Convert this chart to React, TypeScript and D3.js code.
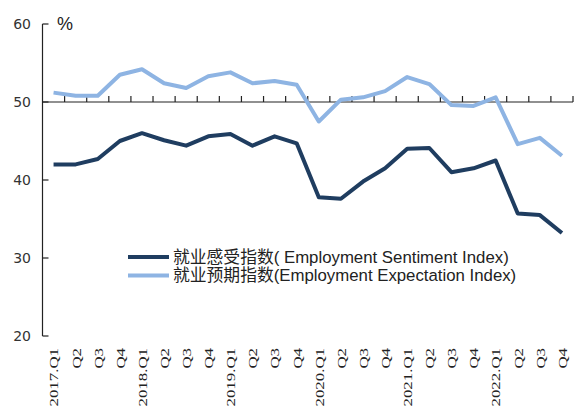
import React, { useEffect, useRef } from 'react';
import * as d3 from 'd3';

const quarters = [
  '2017.Q1', 'Q2', 'Q3', 'Q4',
  '2018.Q1', 'Q2', 'Q3', 'Q4',
  '2019.Q1', 'Q2', 'Q3', 'Q4',
  '2020.Q1', 'Q2', 'Q3', 'Q4',
  '2021.Q1', 'Q2', 'Q3', 'Q4',
  '2022.Q1', 'Q2', 'Q3', 'Q4',
];

const sentiment = [
  42.0, 42.0, 42.7, 45.0,
  46.0, 45.1, 44.4, 45.6,
  45.9, 44.4, 45.6, 44.7,
  37.8, 37.6, 39.8, 41.5,
  44.0, 44.1, 41.0, 41.5,
  42.5, 35.7, 35.5, 33.2,
];

const expectation = [
  51.2, 50.8, 50.8, 53.5,
  54.2, 52.4, 51.8, 53.3,
  53.8, 52.4, 52.7, 52.2,
  47.5, 50.3, 50.6, 51.4,
  53.2, 52.3, 49.6, 49.5,
  50.6, 44.6, 45.4, 43.1,
];

const yTicks = [20, 30, 40, 50, 60];

const legendLabels = [
  '就业感受指数( Employment Sentiment Index)',
  '就业预期指数(Employment Expectation Index)',
];

const DARK = '#1f3d60';
const LIGHT = '#8eb4e3';

export default function App() {
  const svgRef = useRef<SVGSVGElement>(null);

  useEffect(() => {
    if (!svgRef.current) return;
    const svg = d3.select(svgRef.current);
    svg.selectAll('*').remove();

    const left = 42.5, right = 573, top = 24, bottom = 336;

    const x = d3.scaleBand<string>()
      .domain(quarters.map((_, i) => String(i)))
      .range([left, right]);

    const y = d3.scaleLinear().domain([20, 60]).range([bottom, top]);
    const cx = (i: number) => (x(String(i)) ?? 0) + x.bandwidth() / 2;

    // y axis
    svg.append('line')
      .attr('x1', left).attr('x2', left)
      .attr('y1', y(60)).attr('y2', y(20))
      .attr('stroke', '#222').attr('stroke-width', 1.2);

    yTicks.forEach(t => {
      svg.append('line')
        .attr('x1', left).attr('x2', left + 6)
        .attr('y1', y(t)).attr('y2', y(t))
        .attr('stroke', '#222').attr('stroke-width', 1.2);
      svg.append('text')
        .attr('x', 31).attr('y', y(t))
        .attr('text-anchor', 'end')
        .attr('dominant-baseline', 'central')
        .attr('font-family', 'DejaVu Sans')
        .attr('font-size', 14)
        .attr('fill', '#333')
        .text(t);
    });

    svg.append('text')
      .attr('x', 57).attr('y', 24)
      .attr('dominant-baseline', 'central')
      .attr('font-family', 'Liberation Sans')
      .attr('font-size', 18)
      .attr('fill', '#222')
      .text('%');

    // category axis at 50
    svg.append('line')
      .attr('x1', left).attr('x2', right)
      .attr('y1', y(50)).attr('y2', y(50))
      .attr('stroke', '#222').attr('stroke-width', 1.2);

    quarters.forEach((_, i) => {
      const tx = (x(String(i)) ?? 0) + x.bandwidth();
      svg.append('line')
        .attr('x1', tx).attr('x2', tx)
        .attr('y1', y(50)).attr('y2', y(50) - 6)
        .attr('stroke', '#222').attr('stroke-width', 1.2);
    });

    quarters.forEach((q, i) => {
      svg.append('text')
        .attr('transform', `translate(${cx(i)},348) rotate(-90) scale(1.25,1)`)
        .attr('text-anchor', 'end')
        .attr('dominant-baseline', 'central')
        .attr('font-family', 'Liberation Serif')
        .attr('font-size', 13.5)
        .attr('fill', '#222')
        .text(q);
    });

    const line = d3.line<number>()
      .x((_: number, i: number) => cx(i))
      .y((d: number) => y(d));

    svg.append('path')
      .datum(expectation)
      .attr('fill', 'none')
      .attr('stroke', LIGHT)
      .attr('stroke-width', 4)
      .attr('stroke-linejoin', 'round')
      .attr('d', line);

    svg.append('path')
      .datum(sentiment)
      .attr('fill', 'none')
      .attr('stroke', DARK)
      .attr('stroke-width', 4)
      .attr('stroke-linejoin', 'round')
      .attr('d', line);

    // legend
    [DARK, LIGHT].forEach((c, i) => {
      const ly = 257 + i * 18.5;
      svg.append('line')
        .attr('x1', 128).attr('x2', 169)
        .attr('y1', ly).attr('y2', ly)
        .attr('stroke', c).attr('stroke-width', 4);
      svg.append('text')
        .attr('x', 173).attr('y', ly)
        .attr('dominant-baseline', 'central')
        .attr('font-family', 'Liberation Sans, Noto Sans CJK SC')
        .attr('font-size', 16.8)
        .attr('fill', '#222')
        .text(legendLabels[i]);
    });
  }, []);

  return (
    <svg
      ref={svgRef}
      width={575}
      height={410}
      style={{ position: 'absolute', left: 0, top: 0, background: '#fff' }}
    />
  );
}
